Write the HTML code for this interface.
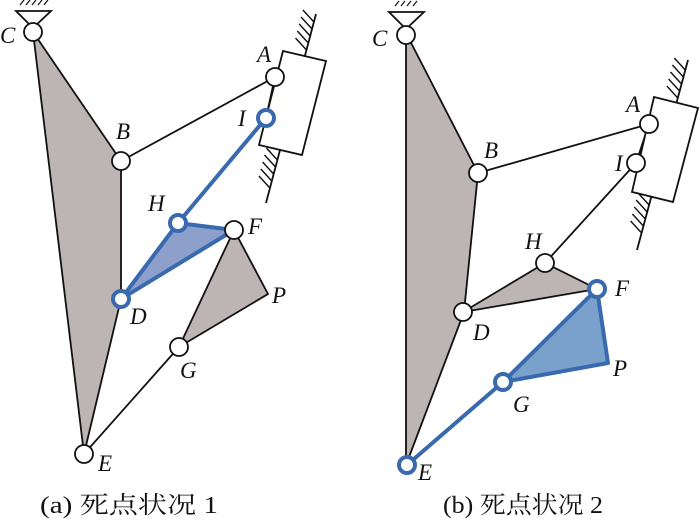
<!DOCTYPE html>
<html><head><meta charset="utf-8"><style>
html,body{margin:0;padding:0;background:#fff;}
svg{display:block}
text{font-family:"Liberation Serif","Noto Serif CJK SC",serif;}
.l{font-style:italic;font-size:23px;fill:#111}
</style></head><body>
<svg width="700" height="522" viewBox="0 0 700 522" xmlns="http://www.w3.org/2000/svg">
<g stroke="#111" stroke-width="1.8" fill="none">
<!-- (a) -->
<polygon points="33,32 121,161 121,299 84,454" fill="#bcb5b3"/>
<polygon points="234,230 268,294 179,347" fill="#bcb5b3"/>
<line x1="121" y1="161" x2="275" y2="77"/>
<line x1="275" y1="77" x2="266" y2="118"/>
<line x1="84" y1="454" x2="179" y2="347"/>
<line x1="316" y1="14" x2="266" y2="203"/>
<polygon points="283,51 326,61 302,155 259,145" fill="#fff"/>
<path d="M16,11 L51,11 L33,28 Z" fill="#fff"/>
<path d="M20,5 l4,-5 M26,5 l4,-5 M32,5 l4,-5 M38,5 l4,-5 M44,5 l4,-5" stroke-width="1.2"/>
<path d="M313.9,22 l-11,-12 M312,29 l-11,-12 M310.2,36 l-11,-12 M308.3,43 l-11,-12 M306.5,50 l-11,-12" stroke-width="1.4"/>
<path d="M277.4,160 l-11,-12 M275.5,167 l-11,-12 M273.6,174 l-11,-12 M271.8,181 l-11,-12 M269.9,188 l-11,-12" stroke-width="1.4"/>
<!-- (b) -->
<polygon points="406,33 478,173 464,312 406,465" fill="#bcb5b3"/>
<polygon points="545,263 597,289 463,312" fill="#bcb5b3"/>
<line x1="478" y1="173" x2="649" y2="124"/>
<line x1="649" y1="124" x2="636" y2="163"/>
<line x1="636" y1="163" x2="545" y2="263"/>
<line x1="688" y1="60" x2="637" y2="250"/>
<polygon points="654,97 698,108 673,202 632,192" fill="#fff"/>
<path d="M389,12 L424,12 L406,29 Z" fill="#fff"/>
<path d="M395,6 l4,-5 M401,6 l4,-5 M407,6 l4,-5 M413,6 l4,-5" stroke-width="1.2"/>
<path d="M685.3,70 l-11,-12 M683.4,77 l-11,-12 M681.5,84 l-11,-12 M679.6,91 l-11,-12 M677.8,98 l-11,-12" stroke-width="1.4"/>
<path d="M649.1,205 l-11,-12 M647.2,212 l-11,-12 M645.3,219 l-11,-12 M643.4,226 l-11,-12 M641.6,233 l-11,-12" stroke-width="1.4"/>
</g>
<g stroke="#3a6aae" stroke-width="4" fill="none" stroke-linejoin="round">
<polygon points="178,223 234,230 121,299" fill="#8d9fcb"/>
<line x1="266" y1="118" x2="178" y2="223"/>
<polygon points="597,289 608,363 503,382" fill="#7aa0cc"/>
<line x1="503" y1="382" x2="407" y2="465"/>
</g>
<g fill="#fff" stroke="#111" stroke-width="1.8">
<circle cx="33" cy="32" r="9"/><circle cx="121" cy="161" r="9"/><circle cx="275" cy="77" r="9"/>
<circle cx="234" cy="230" r="9"/><circle cx="179" cy="347" r="9"/><circle cx="84" cy="454" r="9"/>
<circle cx="406" cy="35" r="9"/><circle cx="478" cy="173" r="9"/><circle cx="649" cy="124" r="9"/>
<circle cx="636" cy="163" r="9"/><circle cx="545" cy="263" r="9"/><circle cx="463" cy="312" r="9"/>
</g>
<g fill="#fff" stroke="#3a6aae" stroke-width="4">
<circle cx="266" cy="118" r="8"/><circle cx="178" cy="223" r="8"/><circle cx="121" cy="299" r="8"/>
<circle cx="597" cy="289" r="8"/><circle cx="503" cy="382" r="8"/><circle cx="407" cy="465" r="8"/>
</g>
<g>
<text x="0" y="43" class="l">C</text>
<text x="116" y="139" class="l">B</text>
<text x="257" y="62" class="l">A</text>
<text x="238" y="126" class="l">I</text>
<text x="148" y="211" class="l">H</text>
<text x="248" y="234" class="l">F</text>
<text x="130" y="324" class="l">D</text>
<text x="272" y="303" class="l">P</text>
<text x="180" y="378" class="l">G</text>
<text x="98" y="471" class="l">E</text>
<text x="372" y="46" class="l">C</text>
<text x="484" y="158" class="l">B</text>
<text x="626" y="112" class="l">A</text>
<text x="615" y="171" class="l">I</text>
<text x="525" y="249" class="l">H</text>
<text x="615" y="296" class="l">F</text>
<text x="473" y="340" class="l">D</text>
<text x="613" y="376" class="l">P</text>
<text x="513" y="412" class="l">G</text>
<text x="418" y="480" class="l">E</text>
</g>
<text x="40" y="513" font-size="24" fill="#111" textLength="178" lengthAdjust="spacingAndGlyphs">(a) 死点状况 1</text>
<text x="443" y="513" font-size="24" fill="#111" textLength="160" lengthAdjust="spacingAndGlyphs">(b) 死点状况 2</text>
</svg>
</body></html>
